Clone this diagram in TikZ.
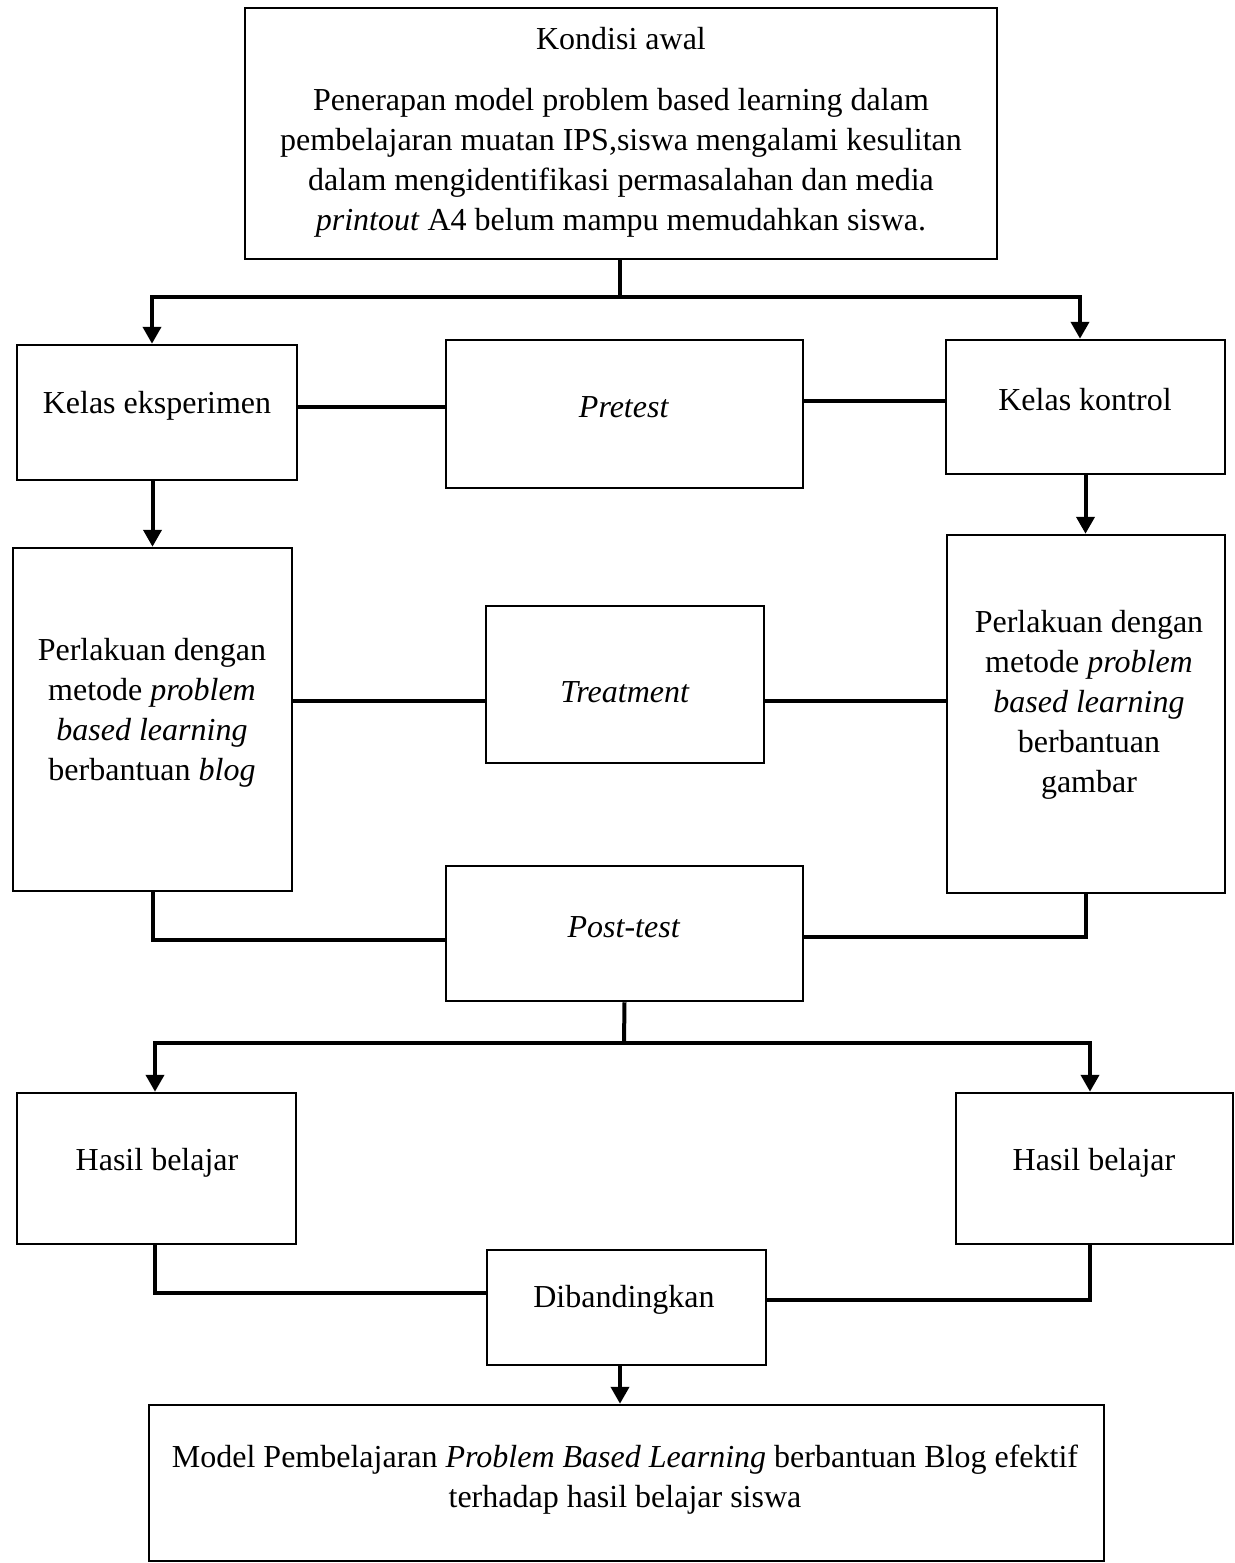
\documentclass[tikz,border=0pt]{standalone}
\usepackage{fontspec}
\setmainfont{Liberation Serif}
\usetikzlibrary{arrows.meta,fit}
\begin{document}
\begin{tikzpicture}[x=0.5pt,y=-0.5pt,
  box/.style={draw,line width=1.25pt,inner sep=0pt},
  txt/.style={align=center,inner sep=0pt,font=\fontsize{16}{20}\selectfont},
  conn/.style={line width=2pt},
  arr/.style={line width=2pt,-{Triangle[width=9pt,length=8.5pt]}}]
\useasboundingbox (0,0) rectangle (1235,1563);
% boxes
\node[box,fit={(245,8) (997,259)}] (top) {};
\node[box,fit={(17,345) (297,480)}] (ke) {};
\node[box,fit={(446,340) (803,488)}] (pre) {};
\node[box,fit={(946,340) (1225,474)}] (kk) {};
\node[box,fit={(13,548) (292,891)}] (pl) {};
\node[box,fit={(486,606) (764,763)}] (tr) {};
\node[box,fit={(947,535) (1225,893)}] (pr) {};
\node[box,fit={(446,866) (803,1001)}] (post) {};
\node[box,fit={(17,1093) (296,1244)}] (hl) {};
\node[box,fit={(956,1093) (1233,1244)}] (hr) {};
\node[box,fit={(487,1250) (766,1365)}] (dib) {};
\node[box,fit={(149,1405) (1104,1561)}] (fin) {};
% texts
\node[txt] (top-t) at (621,132) {Kondisi awal\\[10.5pt]Penerapan model problem based learning dalam\\pembelajaran muatan IPS,siswa mengalami kesulitan\\dalam mengidentifikasi permasalahan dan media\\\textit{printout} A4 belum mampu memudahkan siswa.};
\node[txt] (ke-t) at (157,406) {Kelas eksperimen};
\node[txt] (pre-t) at (624,407) {\textit{Pretest}};
\node[txt] (kk-t) at (1085,400) {Kelas kontrol};
\node[txt] (pl-t) at (152,713) {Perlakuan dengan\\metode \textit{problem}\\\textit{based learning}\\berbantuan \textit{blog}};
\node[txt] (tr-t) at (625,692) {\textit{Treatment}};
\node[txt] (pr-t) at (1089,705) {Perlakuan dengan\\metode \textit{problem}\\\textit{based learning}\\berbantuan\\gambar};
\node[txt] (post-t) at (624,927) {\textit{Post-test}};
\node[txt] (hl-t) at (157,1163) {Hasil belajar};
\node[txt] (hr-t) at (1094,1163) {Hasil belajar};
\node[txt] (dib-t) at (624,1300) {Dibandingkan};
\node[txt] (fin-t) at (625,1480) {Model Pembelajaran \textit{Problem Based Learning} berbantuan Blog efektif\\terhadap hasil belajar siswa};
% bus coordinates
\coordinate (busT) at (620,297);
\coordinate (busTL) at (152,297);
\coordinate (busTR) at (1080,297);
\coordinate (busB) at (624,1043);
\coordinate (busBL) at (155,1043);
\coordinate (busBR) at (1090,1043);
% connectors
\draw[conn] (busT |- top.south) -- (busT);
\draw[conn] ([xshift=-1pt]busTL) -- ([xshift=1pt]busTR);
\draw[arr] (busTL) -- (busTL |- ke.north);
\draw[arr] (busTR) -- (busTR |- kk.north);
\draw[conn] (ke.east |- 0,407) -- (pre.west |- 0,407);
\draw[conn] (pre.east |- 0,401) -- (kk.west |- 0,401);
\draw[arr] (pl.north |- ke.south) -- (pl.north);
\draw[arr] (kk.south) -- (kk.south |- pr.north);
\draw[conn] (pl.east |- 0,701) -- (tr.west |- 0,701);
\draw[conn] (tr.east |- 0,701) -- (pr.west |- 0,701);
\draw[conn] (pl.south) |- (post.west |- 0,940);
\draw[conn] (pr.south) |- (post.east |- 0,937);
\draw[conn] (post.south) -- (busB);
\draw[conn] ([xshift=-1pt]busBL) -- ([xshift=1pt]busBR);
\draw[arr] (busBL) -- (busBL |- hl.north);
\draw[arr] (busBR) -- (busBR |- hr.north);
\draw[conn] (busBL |- hl.south) |- (dib.west |- 0,1293);
\draw[conn] (busBR |- hr.south) |- (dib.east |- 0,1300);
\draw[arr] (dib.south -| 620,0) -- (fin.north -| 620,0);
\end{tikzpicture}
\end{document}
